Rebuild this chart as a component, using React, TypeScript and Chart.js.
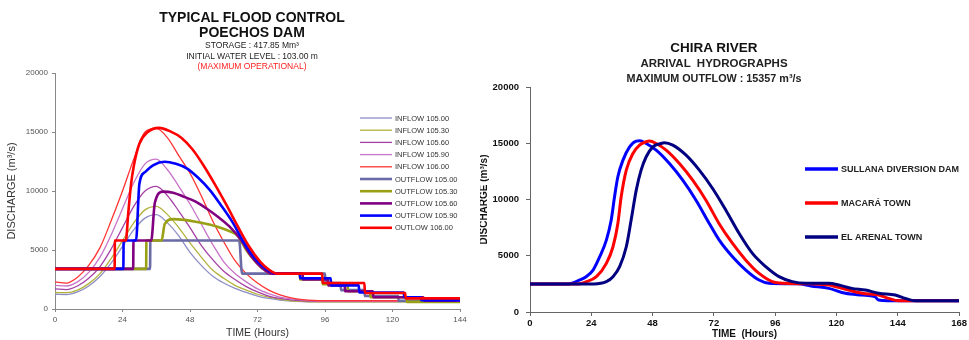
import React, { useEffect, useRef } from "react";
import { Chart, registerables } from "chart.js";

Chart.register(...registerables);

const FONT = "'Liberation Sans', Arial, Helvetica, sans-serif";

// ---------------- Left panel: Poechos dam flood control ----------------
const inflowHours = [0, 4, 8, 12, 16, 20, 24, 28, 32, 36, 40, 44, 48, 52, 56, 60, 64, 68, 72, 76, 80, 84, 88, 92, 96, 100, 104, 108, 112, 116, 120, 124, 128, 132, 136, 140, 144];
const inflow10500 = [1250, 1230, 1450, 1950, 2750, 3900, 5300, 6700, 7700, 8000, 7300, 6200, 4800, 3700, 2800, 2200, 1750, 1400, 1100, 900, 760, 670, 620, 600, 600, 600, 600, 600, 600, 600, 600, 600, 600, 600, 600, 600, 600];
const inflow10530 = [1400, 1380, 1600, 2150, 3000, 4300, 5800, 7300, 8400, 8700, 8000, 6900, 5600, 4400, 3300, 2600, 2000, 1600, 1250, 1000, 820, 700, 640, 600, 600, 600, 600, 600, 600, 600, 600, 600, 600, 600, 600, 600, 600];
const inflow10560 = [1700, 1650, 1950, 2600, 3600, 5100, 6900, 8700, 10000, 10400, 9600, 8300, 6900, 5400, 4200, 3200, 2500, 1900, 1450, 1100, 900, 780, 700, 650, 650, 650, 650, 650, 650, 650, 650, 650, 650, 650, 650, 650, 650];
const inflow10590 = [2000, 1950, 2300, 3100, 4400, 6300, 8500, 10700, 12300, 12700, 11800, 10400, 8900, 7200, 5500, 4000, 3000, 2300, 1700, 1300, 1000, 850, 750, 680, 650, 650, 650, 650, 650, 650, 650, 650, 650, 650, 650, 650, 650];
const inflow10600 = [2300, 2200, 2700, 3700, 5200, 7500, 10000, 12700, 15000, 15300, 14500, 13000, 11500, 9600, 7500, 5700, 4100, 3000, 2200, 1600, 1200, 950, 800, 720, 700, 700, 700, 700, 700, 700, 700, 700, 700, 700, 700, 700, 700];

const outflow10500Hours = [0, 33.8, 33.9, 65.5, 66.5, 96, 96.2, 101.5, 101.7, 110, 110.2, 122, 122.2, 144];
const outflow10500 = [3400, 3400, 5800, 5800, 3000, 3000, 2200, 2200, 1600, 1600, 1100, 1100, 700, 700];
const outflow10530Hours = [0, 32.4, 32.5, 37.9, 39, 42, 46, 50, 54, 58, 62, 65, 68, 71, 74, 77, 87, 87.2, 95, 95.2, 104, 104.2, 112, 112.2, 125, 125.2, 144];
const outflow10530 = [3400, 3400, 5800, 5800, 7200, 7620, 7550, 7400, 7200, 6950, 6600, 6200, 5000, 4100, 3400, 3000, 3000, 2500, 2500, 2100, 2100, 1500, 1500, 1000, 1000, 600, 600];
const outflow10560Hours = [0, 27.8, 27.9, 34.2, 35.5, 38.5, 42, 46, 50, 54, 58, 62, 66, 70, 73.5, 77, 88, 88.2, 97, 97.2, 103, 103.2, 113, 113.2, 131, 131.2, 144];
const outflow10560 = [3400, 3400, 5800, 5800, 9000, 9950, 9850, 9500, 9100, 8500, 7800, 7000, 5900, 4400, 3500, 3000, 3000, 2500, 2500, 2000, 2000, 1500, 1500, 1000, 1000, 700, 700];
const outflow10590Hours = [0, 24.3, 24.4, 28.8, 30, 32, 35, 39, 43, 47, 51, 55, 59, 63, 67, 71, 75, 78.5, 87, 87.2, 98, 98.2, 108, 108.2, 124, 124.2, 130, 130.2, 144];
const outflow10590 = [3400, 3400, 5800, 5800, 10600, 11600, 12200, 12480, 12300, 11900, 11100, 10100, 8800, 7400, 5700, 4300, 3400, 3000, 3000, 2600, 2600, 2000, 2000, 1400, 1400, 1000, 1000, 750, 750];
const outflow10600Hours = [0, 21.2, 21.3, 25.2, 26, 27, 28, 30, 33, 37, 41, 45, 49, 53, 57, 61, 65, 69, 73, 76, 79, 95, 95.2, 110, 110.2, 124.5, 124.7, 144];
const outflow10600 = [3400, 3400, 5800, 5800, 8000, 10500, 12100, 14000, 15000, 15350, 15050, 14500, 13500, 12100, 10500, 8800, 7000, 5300, 4000, 3350, 3000, 3000, 2200, 2200, 1350, 1350, 900, 900];

const leftLabels = [
  "INFLOW 105.00", "INFLOW 105.30", "INFLOW 105.60", "INFLOW 105.90", "INFLOW 106.00",
  "OUTFLOW 105.00", "OUTFLOW 105.30", "OUTFLOW 105.60", "OUTFLOW 105.90", "OUTLOW 106.00",
];
const leftColors = ["#8e8ec6", "#b2b23c", "#a640a6", "#c874c8", "#ff3333", "#6a6aa6", "#9aa014", "#800080", "#0000ff", "#ff0000"];

// ---------------- Right panel: Chira river arrival hydrographs ----------------
const sullanaHours = [0, 15, 19.5, 22, 24.7, 27.3, 29.9, 31.8, 33.1, 34.4, 36.4, 39, 41.6, 43, 45.5, 49.4, 54.6, 59.8, 65, 70.2, 74.1, 79.3, 84.5, 89.7, 93.6, 105, 110, 117, 123.5, 130, 135, 136.5, 140, 168];
const sullanaFlow = [2500, 2500, 2850, 3140, 3730, 4910, 6390, 8170, 10240, 12020, 13500, 14680, 15190, 15220, 14980, 14390, 13200, 11720, 9940, 7870, 6390, 4910, 3730, 2840, 2550, 2500, 2310, 2100, 1660, 1510, 1360, 1060, 1000, 1000];
const macaraHours = [0, 19, 22.1, 26, 29.9, 32.5, 34.4, 35.7, 37.7, 40.3, 42.9, 45.5, 46.8, 49.4, 53.3, 58.5, 63.7, 68.9, 74, 79.3, 84.5, 89.7, 94.9, 100, 110, 117, 123.5, 130, 136.5, 140.4, 144.3, 168];
const macaraFlow = [2500, 2500, 2700, 3140, 4320, 5800, 7870, 10240, 12610, 14090, 14830, 15130, 15190, 14980, 14390, 13200, 11720, 9940, 7870, 6090, 4610, 3430, 2700, 2550, 2500, 2400, 2020, 1660, 1510, 1210, 1000, 1000];
const arenalHours = [0, 25, 29.9, 32.5, 35.1, 37.7, 39.6, 41.6, 43.5, 45.5, 48.1, 51.3, 52.6, 55.9, 61.1, 66.3, 71.5, 76.7, 81.9, 87.1, 92.3, 97.5, 102.7, 107.9, 117, 120.9, 126, 131.3, 136.5, 143, 146.9, 150.8, 168];
const arenalFlow = [2500, 2500, 2700, 3140, 4030, 5800, 8170, 10830, 12610, 13800, 14680, 14980, 15040, 14830, 13940, 12610, 10980, 9050, 6980, 5210, 4030, 3140, 2700, 2550, 2550, 2400, 2100, 1950, 1660, 1510, 1210, 1000, 1000];

const rightLabels = ["SULLANA DIVERSION DAM", "MACARÁ TOWN", "EL ARENAL TOWN"];
const rightColors = ["#0000ff", "#ff0000", "#000080"];

function pts(hours: number[], values: number[]) {
  return hours.map((h, i) => ({ x: h, y: values[i] }));
}

const plainTick = (v: any) => String(v);

const lineLegend = {
  id: "lineLegend",
  afterDraw(chart: any, _args: any, opts: any) {
    const ctx = chart.ctx;
    ctx.save();
    chart.data.datasets.forEach((ds: any, i: number) => {
      const y = opts.y + i * opts.gap;
      ctx.strokeStyle = ds.borderColor;
      ctx.lineWidth = opts.lineWidth || ds.borderWidth;
      ctx.beginPath();
      ctx.moveTo(opts.x, y);
      ctx.lineTo(opts.x + opts.len, y);
      ctx.stroke();
      ctx.fillStyle = opts.color;
      ctx.font = opts.font;
      ctx.textBaseline = "middle";
      ctx.textAlign = "left";
      ctx.fillText(ds.label, opts.x + opts.len + opts.textGap, y + 0.5);
    });
    ctx.restore();
  },
};

function leftConfig(): any {
  const series = [
    pts(inflowHours, inflow10500),
    pts(inflowHours, inflow10530),
    pts(inflowHours, inflow10560),
    pts(inflowHours, inflow10590),
    pts(inflowHours, inflow10600),
    pts(outflow10500Hours, outflow10500),
    pts(outflow10530Hours, outflow10530),
    pts(outflow10560Hours, outflow10560),
    pts(outflow10590Hours, outflow10590),
    pts(outflow10600Hours, outflow10600),
  ];
  const drawOrder = [9, 8, 7, 6, 5, 4, 3, 2, 1, 0];
  return {
    type: "line",
    data: {
      datasets: series.map((d, i) => ({
        label: leftLabels[i],
        data: d,
        borderColor: leftColors[i],
        borderWidth: i < 5 ? 1.3 : 2.6,
        pointRadius: 0,
        fill: false,
        cubicInterpolationMode: "monotone",
        order: drawOrder[i],
      })),
    },
    options: {
      animation: false,
      responsive: false,
      layout: { padding: { left: 0, right: 20, top: 73, bottom: 0 } },
      plugins: {
        legend: { display: false },
        tooltip: { enabled: false },
        lineLegend: { x: 360, y: 118, gap: 12.2, len: 32, textGap: 3, font: `7.5px ${FONT}`, color: "#333" },
      },
      scales: {
        x: {
          type: "linear",
          min: 0,
          max: 144,
          ticks: { stepSize: 24, autoSkip: false, maxRotation: 0, color: "#555", font: { size: 8, family: FONT }, padding: 3, callback: plainTick },
          grid: { display: true, drawOnChartArea: false, drawTicks: true, tickLength: 3, color: "#888" },
          border: { display: true, color: "#888", width: 1 },
          title: { display: true, text: "TIME (Hours)", color: "#333", font: { size: 10.5, family: FONT }, padding: { top: 0, bottom: 1 } },
          afterFit: (s: any) => { s.height = 31; },
        },
        y: {
          min: 0,
          max: 20000,
          ticks: { stepSize: 5000, color: "#555", font: { size: 8, family: FONT }, padding: 4, callback: plainTick },
          grid: { display: true, drawOnChartArea: false, drawTicks: true, tickLength: 3, color: "#888" },
          border: { display: true, color: "#888", width: 1 },
          title: { display: true, text: "DISCHARGE (m³/s)", color: "#333", font: { size: 11, family: FONT }, padding: { top: 5, bottom: 0 } },
          afterFit: (s: any) => { s.width = 55; },
        },
      },
    },
    plugins: [lineLegend],
  };
}

function rightConfig(): any {
  const series = [pts(sullanaHours, sullanaFlow), pts(macaraHours, macaraFlow), pts(arenalHours, arenalFlow)];
  const drawOrder = [2, 1, 0];
  return {
    type: "line",
    data: {
      datasets: series.map((d, i) => ({
        label: rightLabels[i],
        data: d,
        borderColor: rightColors[i],
        borderWidth: 3,
        pointRadius: 0,
        fill: false,
        cubicInterpolationMode: "monotone",
        order: drawOrder[i],
      })),
    },
    options: {
      animation: false,
      responsive: false,
      layout: { padding: { left: 0, right: 8, top: 87, bottom: 0 } },
      plugins: {
        legend: { display: false },
        tooltip: { enabled: false },
        lineLegend: { x: 325, y: 169, gap: 34, len: 33, textGap: 3, lineWidth: 3.5, font: `bold 9px ${FONT}`, color: "#222" },
      },
      scales: {
        x: {
          type: "linear",
          min: 0,
          max: 168,
          ticks: { stepSize: 24, autoSkip: false, maxRotation: 0, color: "#111", font: { size: 9.5, weight: "bold", family: FONT }, padding: 2, callback: plainTick },
          grid: { display: true, drawOnChartArea: false, drawTicks: true, tickLength: 4, color: "#666" },
          border: { display: true, color: "#666", width: 1 },
          title: { display: true, text: "TIME  (Hours)", color: "#111", font: { size: 10, weight: "bold", family: FONT }, padding: { top: 0, bottom: 0 } },
          afterFit: (s: any) => { s.height = 28; },
        },
        y: {
          min: 0,
          max: 20000,
          ticks: { stepSize: 5000, color: "#111", font: { size: 9.5, weight: "bold", family: FONT }, padding: 7, callback: plainTick },
          grid: { display: true, drawOnChartArea: false, drawTicks: true, tickLength: 4, color: "#666" },
          border: { display: true, color: "#666", width: 1 },
          title: { display: true, text: "DISCHARGE (m³/s)", color: "#111", font: { size: 10, weight: "bold", family: FONT }, padding: { top: -2, bottom: 0 } },
          afterFit: (s: any) => { s.width = 50; },
        },
      },
    },
    plugins: [lineLegend],
  };
}

function ChartCanvas({ make, width, height, left }: { make: () => any; width: number; height: number; left: number }) {
  const ref = useRef<HTMLCanvasElement | null>(null);
  useEffect(() => {
    if (!ref.current) return;
    const chart = new Chart(ref.current, make());
    return () => chart.destroy();
  }, []);
  return (
    <canvas
      ref={ref}
      width={width}
      height={height}
      style={{ position: "absolute", left, top: 0, width, height }}
    />
  );
}

const titleStyle = (cx: number, cy: number, size: number, bold: boolean, color = "#111"): React.CSSProperties => ({
  position: "absolute",
  left: cx - 200,
  width: 400,
  top: cy - size * 0.6,
  height: size * 1.2,
  lineHeight: `${size * 1.2}px`,
  fontSize: size,
  fontWeight: bold ? "bold" : "normal",
  fontFamily: FONT,
  color,
  textAlign: "center",
  whiteSpace: "pre",
});

export default function App() {
  return (
    <div style={{ position: "absolute", left: 0, top: 0, width: 969, height: 340, background: "#fff", overflow: "hidden" }}>
      <ChartCanvas make={leftConfig} width={480} height={340} left={0} />
      <ChartCanvas make={rightConfig} width={489} height={340} left={480} />
      <div style={titleStyle(252, 17, 14, true)}>TYPICAL FLOOD CONTROL</div>
      <div style={titleStyle(252, 32.5, 14, true)}>POECHOS DAM</div>
      <div style={titleStyle(252, 45.5, 8.5, false, "#222")}>STORAGE : 417.85 Mm³</div>
      <div style={titleStyle(252, 56, 8.5, false, "#222")}>INITIAL WATER LEVEL : 103.00 m</div>
      <div style={titleStyle(252, 66, 8.5, false, "#ff2020")}>(MAXIMUM OPERATIONAL)</div>
      <div style={titleStyle(714, 48, 13.5, true)}>CHIRA RIVER</div>
      <div style={titleStyle(714, 64, 11.5, true, "#222")}>ARRIVAL  HYDROGRAPHS</div>
      <div style={titleStyle(714, 78, 10.8, true, "#222")}>MAXIMUM OUTFLOW : 15357 m³/s</div>
    </div>
  );
}
